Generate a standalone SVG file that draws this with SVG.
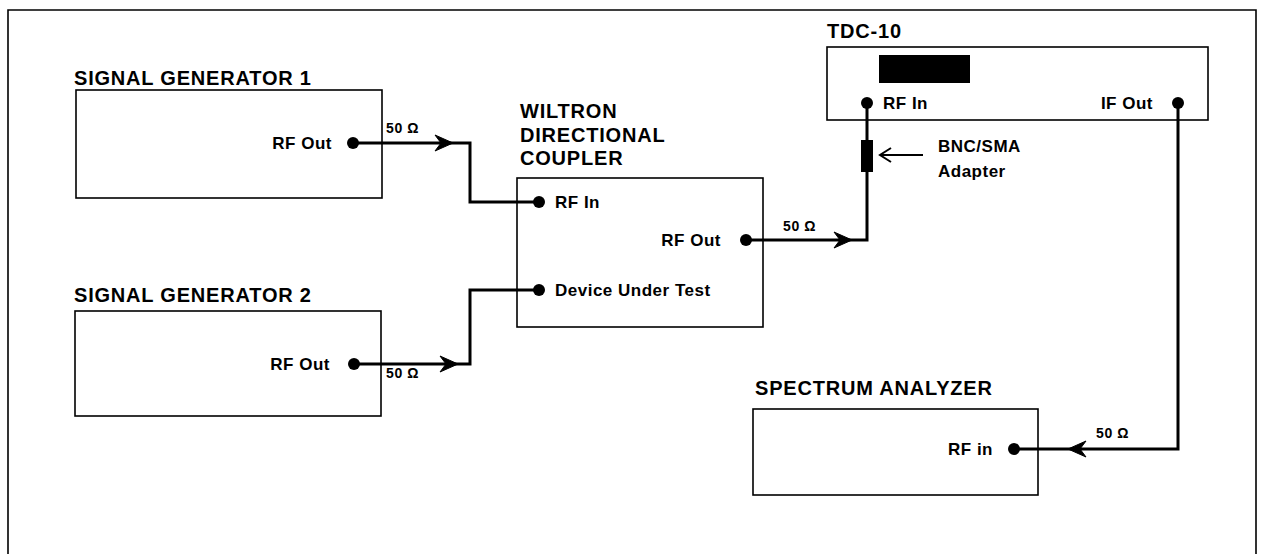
<svg xmlns="http://www.w3.org/2000/svg" xmlns:xlink="http://www.w3.org/1999/xlink" width="1262" height="554" viewBox="0 0 1262 554">
<style>
.box{fill:none;stroke:#000;stroke-width:1.6}
.title{font-family:"Liberation Sans",Arial,sans-serif;font-weight:bold;font-size:20px;letter-spacing:0.8px;fill:#000}
.port{font-family:"Liberation Sans",Arial,sans-serif;font-weight:bold;font-size:17px;letter-spacing:0.5px;fill:#000}
.ohm{font-family:"Liberation Sans",Arial,sans-serif;font-weight:bold;font-size:14px;letter-spacing:0.6px;fill:#000}
.wire{fill:none;stroke:#000;stroke-width:3;stroke-linejoin:miter}
.dot{fill:#000}
</style>
<defs>
<path id="ah" d="M-18,-8 L0,0 L-18,8 L-12,0 Z" fill="#000" stroke="#000" stroke-width="1"/>
</defs>
<rect width="1262" height="554" fill="#fff"/>
<path d="M8,554 V10 H1256 V554" fill="none" stroke="#000" stroke-width="1.6"/>

<g id="connectors">
<path class="wire" d="M353,143 H470 V202 H539"/>
<use xlink:href="#ah" transform="translate(453,143)"/>
<path class="wire" d="M354,364 H470 V290 H539"/>
<use xlink:href="#ah" transform="translate(458,364)"/>
<path class="wire" d="M746,240 H867 V103"/>
<use xlink:href="#ah" transform="translate(852,240)"/>
<path class="wire" d="M1178,103 V449 H1014"/>
<use xlink:href="#ah" transform="translate(1068,449) rotate(180)"/>
<text class="ohm" x="386" y="133">50 Ω</text>
<text class="ohm" x="386" y="378">50 Ω</text>
<text class="ohm" x="783" y="231">50  Ω</text>
<text class="ohm" x="1096" y="438">50 Ω</text>
</g>

<g id="sg1">
<text class="title" x="74" y="85">SIGNAL GENERATOR 1</text>
<rect class="box" x="76" y="90" width="306" height="108"/>
<text class="port" x="332" y="149" text-anchor="end">RF Out</text>
<circle class="dot" cx="353" cy="143" r="6"/>
</g>

<g id="sg2">
<text class="title" x="74" y="302">SIGNAL GENERATOR 2</text>
<rect class="box" x="75" y="311" width="306" height="105"/>
<text class="port" x="330" y="370" text-anchor="end">RF Out</text>
<circle class="dot" cx="354" cy="364" r="6"/>
</g>

<g id="coupler">
<text class="title" x="520" y="118">WILTRON</text>
<text class="title" x="520" y="142">DIRECTIONAL</text>
<text class="title" x="520" y="165">COUPLER</text>
<rect class="box" x="517" y="178" width="246" height="149"/>
<circle class="dot" cx="539" cy="202" r="6"/>
<text class="port" x="555" y="208">RF In</text>
<text class="port" x="721" y="246" text-anchor="end">RF Out</text>
<circle class="dot" cx="746" cy="240" r="6"/>
<circle class="dot" cx="539" cy="290" r="6"/>
<text class="port" x="555" y="296">Device Under Test</text>
</g>

<g id="tdc10">
<text class="title" x="827" y="38">TDC-10</text>
<rect class="box" x="827" y="47" width="381" height="73"/>
<rect x="879" y="55" width="91" height="28" fill="#000"/>
<circle class="dot" cx="867" cy="103" r="6"/>
<text class="port" x="883" y="109">RF In</text>
<text class="port" x="1153" y="109" text-anchor="end">IF Out</text>
<circle class="dot" cx="1178" cy="103" r="6"/>
</g>

<g id="adapter">
<rect x="861" y="140" width="12" height="32" fill="#000"/>
<path d="M923,155 H880 M891,148 L880,155 L891,162" fill="none" stroke="#000" stroke-width="2"/>
<text class="port" x="938" y="152">BNC/SMA</text>
<text class="port" x="938" y="177">Adapter</text>
</g>

<g id="spectrum">
<text class="title" x="755" y="395">SPECTRUM ANALYZER</text>
<rect class="box" x="753" y="409" width="285" height="86"/>
<text class="port" x="993" y="455" text-anchor="end">RF in</text>
<circle class="dot" cx="1014" cy="449" r="6"/>
</g>
</svg>
